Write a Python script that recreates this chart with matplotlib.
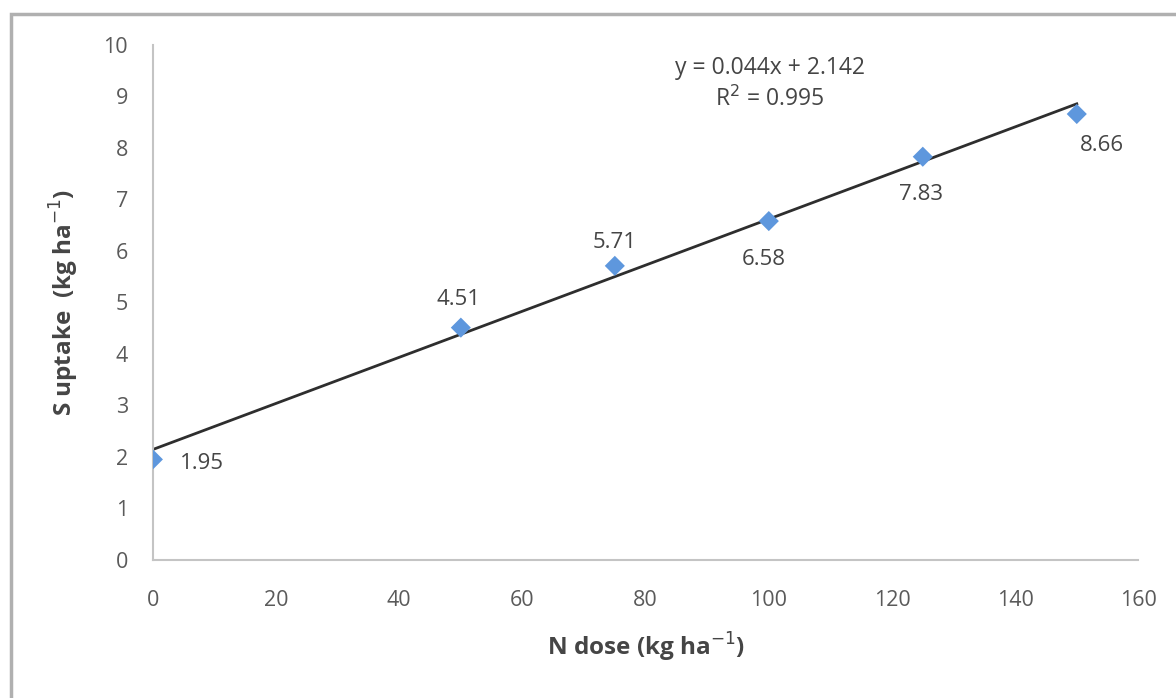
import numpy as np
import matplotlib.pyplot as plt
from matplotlib.patches import Rectangle

# data
n_dose = [0, 50, 75, 100, 125, 150]
s_uptake = [1.95, 4.51, 5.71, 6.58, 7.83, 8.66]
eq_text = 'y = 0.044x + 2.142\nR$^2$ = 0.995'

# label offsets in points (style only)
label_offsets = [(35, -3), (-2, 20), (0, 17), (-4, -28), (-1, -27), (18, -23)]

plt.rcParams['font.family'] = ['Open Sans', 'DejaVu Sans']

fig = plt.figure(figsize=(11.76, 6.98), dpi=100)
ax = fig.add_axes([0.130, 0.198, 0.838, 0.7375])

# outer chart frame
fig.patches.append(Rectangle((0.009, -0.05), 1.1, 1.03, transform=fig.transFigure,
                             fill=False, edgecolor='#b0b0b0', linewidth=2.5))

# linear trendline fitted to the points
k, b = np.polyfit(n_dose, s_uptake, 1)
xs = np.array([min(n_dose), max(n_dose)])
ax.plot(xs, k * xs + b, color='#2e2e2e', linewidth=2.0, zorder=2)
ax.scatter(n_dose, s_uptake, marker='D', s=105, color='#5e97dd', zorder=3,
           edgecolors='none')

for x, y, off in zip(n_dose, s_uptake, label_offsets):
    ax.annotate('%.2f' % y, (x, y), xytext=off, textcoords='offset points',
                ha='center', va='center', fontsize=16, color='#454545')

ax.text(100.2, 9.24, eq_text, ha='center', va='center', fontsize=16.5,
        color='#454545', linespacing=1.35)

ax.set_xlim(0, 160)
ax.set_ylim(0, 10)
ax.set_xticks(range(0, 161, 20))
ax.set_yticks(range(0, 11))
ax.tick_params(length=0, labelsize=15.5, labelcolor='#5a5a5a')
ax.tick_params(axis='x', pad=22)
ax.tick_params(axis='y', pad=18)
for side in ['top', 'right']:
    ax.spines[side].set_visible(False)
for side in ['left', 'bottom']:
    ax.spines[side].set_color('#c4c4c4')
    ax.spines[side].set_linewidth(1.5)

ax.set_xlabel('N dose (kg ha$^{-1}$)', fontsize=17.5, fontweight='bold',
              color='#454545', labelpad=14)
ax.set_ylabel('S uptake  (kg ha$^{-1}$)', fontsize=17.5, fontweight='bold',
              color='#454545', labelpad=16)

fig.savefig('out.png', dpi=100)
